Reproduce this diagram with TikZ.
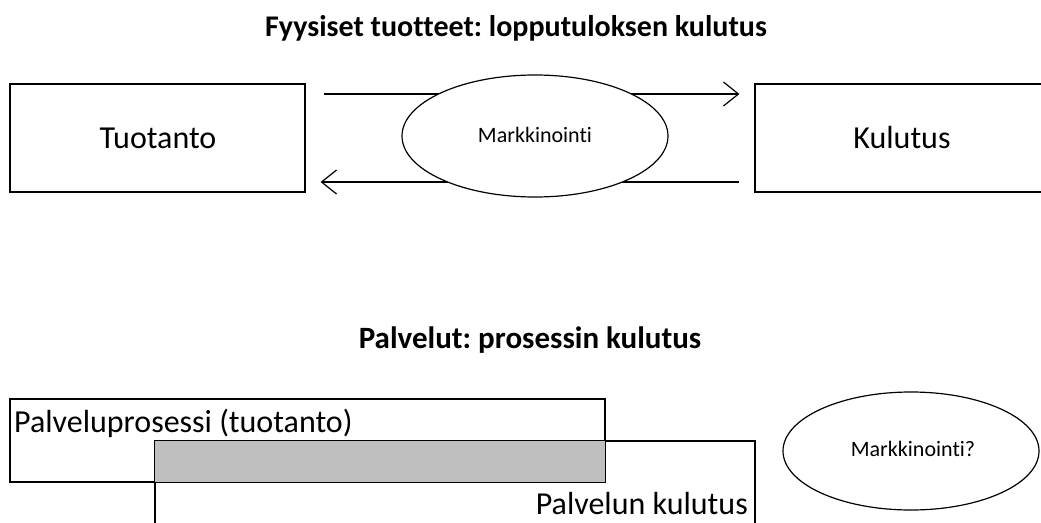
\documentclass[tikz,border=0pt]{standalone}
\usepackage{fontspec}
\setmainfont[Ligatures={NoCommon}]{Carlito}
\usetikzlibrary{arrows.meta,shapes.geometric}
\frenchspacing
\begin{document}
\begin{tikzpicture}[x=1pt,y=-1pt,
  box/.style={draw=black,line width=1.2pt,rectangle,inner sep=0pt},
  oval/.style={draw=black,line width=1.2pt,ellipse,fill=white,inner sep=0pt},
  flow/.style={line width=1.2pt,-{Straight Barb[length=15pt,width=24pt,line width=1.2pt]}},
  title/.style={font=\bfseries\fontsize{30}{34}\selectfont,inner sep=0pt},
  big/.style={font=\fontsize{32}{38}\selectfont,inner sep=0pt},
  small/.style={font=\fontsize{22}{26}\selectfont,inner sep=0pt}]
\useasboundingbox (0,0) rectangle (1041,522);
\clip (0,0) rectangle (1041,522);
% top part
\node[title] (t1) at (516,28) {Fyysiset tuotteet: lopputuloksen kulutus};
\node[box,minimum width=295pt,minimum height=108pt] (tuo) at (157.5,138) {};
\node[big] (tuotxt) at (158,138) {Tuotanto};
\node[box,minimum width=320pt,minimum height=108pt] (kul) at (915,138) {};
\node[big] (kultxt) at (902,138) {Kulutus};
\coordinate (a1s) at ([xshift=18pt,yshift=44pt]tuo.east);
\coordinate (a1e) at ([xshift=-15pt,yshift=44pt]kul.west);
\coordinate (a2s) at ([xshift=-15pt,yshift=-44pt]kul.west);
\coordinate (a2e) at ([xshift=15pt,yshift=-44pt]tuo.east);
\draw[flow] (a1s) -- (a1e);
\draw[flow] (a2s) -- (a2e);
\node[oval,minimum width=266pt,minimum height=122pt] (mark) at (535,136) {};
\node[small] (marktxt) at (535,135) {Markkinointi};
% bottom part
\node[title,font=\bfseries\fontsize{31}{36}\selectfont] (t2) at (530,340) {Palvelut: prosessin kulutus};
\node[box,minimum width=595pt,minimum height=83pt] (pp) at (307.5,440.5) {};
\node[box,minimum width=600pt,minimum height=120pt] (pk) at (455,501) {};
\fill[fill=black!25,draw=black,line width=1.2pt] (pk.north west) rectangle (pp.south east);
\node[big,anchor=west] (pptxt) at (14,423) {Palveluprosessi (tuotanto)};
\node[big,anchor=east] (pktxt) at (748,504) {Palvelun kulutus};
\node[oval,minimum width=256pt,minimum height=118pt] (mark2) at (911,451) {};
\node[small] (mark2txt) at (913,449) {Markkinointi?};
\end{tikzpicture}
\end{document}
